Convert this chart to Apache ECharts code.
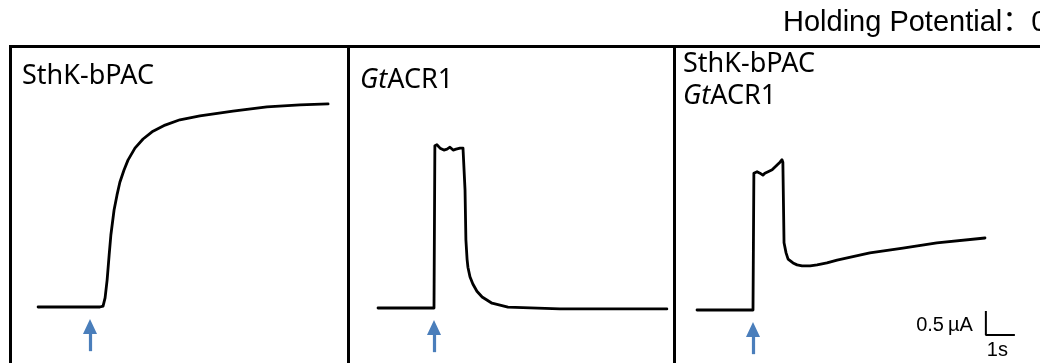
<!DOCTYPE html>
<html>
<head>
<meta charset="utf-8">
<script src="https://cdn.jsdelivr.net/npm/echarts@6/dist/echarts.min.js"></script>
<style>
  html, body { margin: 0; padding: 0; background: #fff; }
  #chart { width: 1040px; height: 363px; }
</style>
</head>
<body>
<div id="chart"></div>
<script>
// time in s relative to light onset (arrow), current in µA relative to baseline
const tSthK = [-1.79, 0.34, 0.45, 0.52, 0.59, 0.66, 0.72, 0.83, 0.93, 1.03, 1.17, 1.31, 1.55, 1.83, 2.14, 2.59, 3.10, 3.79, 4.93, 6.10, 7.24, 8.21];
const iSthK = [0, 0, 0.02, 0.19, 0.56, 1.08, 1.50, 2.02, 2.33, 2.60, 2.85, 3.06, 3.31, 3.50, 3.65, 3.79, 3.90, 3.98, 4.08, 4.17, 4.21, 4.23];

const tGt = [-1.93, 0, 0.03, 0.10, 0.21, 0.34, 0.45, 0.55, 0.66, 0.76, 0.90, 1.00, 1.03, 1.07, 1.10, 1.14, 1.17, 1.24, 1.34, 1.48, 1.66, 2.00, 2.55, 4.34, 8.03];
const iGt = [0, 0, 3.38, 3.40, 3.33, 3.29, 3.31, 3.35, 3.29, 3.31, 3.33, 3.33, 3.29, 2.46, 1.42, 1.02, 0.85, 0.65, 0.50, 0.35, 0.23, 0.10, 0.02, -0.02, -0.02];

const tBoth = [-1.93, 0, 0.03, 0.14, 0.24, 0.34, 0.41, 0.52, 0.66, 0.69, 0.83, 0.93, 1.00, 1.03, 1.07, 1.14, 1.21, 1.38, 1.52, 1.69, 1.97, 2.21, 2.55, 2.90, 4.03, 5.17, 6.34, 8.00];
const iBoth = [0, 0, 2.85, 2.88, 2.85, 2.81, 2.85, 2.88, 2.92, 2.96, 3.02, 3.08, 3.13, 3.08, 1.40, 1.19, 1.06, 0.98, 0.94, 0.92, 0.92, 0.94, 0.98, 1.04, 1.19, 1.29, 1.40, 1.50];

// light pulse arrow: onset time and vertical span (µA, bottom -> tip)
const stimTime = 0;
const arrowSpan = [-0.92, -0.25];

// scale bar: corner (s, µA) and size (1 s, 0.5 µA)
const scaleOrigin = [8.03, -0.52];
const scaleSize = [1, 0.5];

const panelNames = ['SthK-bPAC', 'GtACR1', 'SthK-bPAC + GtACR1'];

// layout in px
const pxPerSec = 29, pxPerUA = 48;
const gridTop = 46.5, gridHeight = 330;
const panels = [
  { left: 10.5, width: 338, arrowX: 90, baseY: 307 },
  { left: 348.5, width: 326, arrowX: 434, baseY: 308 },
  { left: 674.5, width: 420, arrowX: 753, baseY: 310 }
];

const zip = (t, v) => t.map((x, k) => [x, v[k]]);
const traces = [zip(tSthK, iSthK), zip(tGt, iGt), zip(tBoth, iBoth)];

const grid = [], xAxis = [], yAxis = [], series = [];
panels.forEach((p, k) => {
  grid.push({
    left: p.left, top: gridTop, width: p.width, height: gridHeight,
    outerBoundsMode: 'none', containLabel: false,
    show: true, borderColor: '#000', borderWidth: 3, backgroundColor: 'transparent'
  });
  const xMin = (p.left - p.arrowX) / pxPerSec;
  const yMax = (p.baseY - gridTop) / pxPerUA;
  xAxis.push({ type: 'value', gridIndex: k, min: xMin, max: xMin + p.width / pxPerSec, show: false });
  yAxis.push({ type: 'value', gridIndex: k, min: yMax - gridHeight / pxPerUA, max: yMax, show: false });

  const headH = 15;
  series.push({
    name: panelNames[k],
    type: 'line',
    xAxisIndex: k, yAxisIndex: k,
    data: traces[k],
    showSymbol: false,
    lineStyle: { color: '#000', width: 2.8, join: 'round', cap: 'round' },
    markLine: {
      silent: true,
      symbol: ['none', 'triangle'],
      symbolSize: [14, headH],
      label: { show: false },
      lineStyle: { color: '#4a7ebb', width: 3.2, type: 'solid' },
      data: [[
        { coord: [stimTime, arrowSpan[0]] },
        { coord: [stimTime, arrowSpan[1] - headH / 2 / pxPerUA] }
      ]]
    }
  });
});

// scale bar in the last panel
const sx = scaleOrigin[0], sy = scaleOrigin[1];
series.push({
  type: 'line',
  xAxisIndex: 2, yAxisIndex: 2,
  symbol: 'circle', symbolSize: 0.1,
  lineStyle: { color: '#000', width: 2 },
  itemStyle: { color: '#000' },
  label: { show: false },
  data: [
    [sx, sy + scaleSize[1]],
    { value: [sx, sy + scaleSize[1] / 2], label: { show: true, position: 'left', distance: 13, offset: [0, 3], formatter: '0.5\u2009µA', fontSize: 20, fontFamily: 'Liberation Sans', color: '#000' } },
    [sx, sy],
    { value: [sx + scaleSize[0] / 2, sy], label: { show: true, position: 'bottom', distance: 5, offset: [-3, 0], formatter: '1s', fontSize: 20, fontFamily: 'Liberation Sans', color: '#000' } },
    [sx + scaleSize[0], sy]
  ]
});

const labelFont = { fontFamily: 'Noto Sans', fontSize: 27, fill: '#000' };
const rich = { i: { fontStyle: 'italic', fontFamily: 'Noto Sans', fontSize: 27 }, n: { fontFamily: 'Noto Sans', fontSize: 27 } };

const chart = echarts.init(document.getElementById('chart'));
chart.setOption({
  animation: false,
  backgroundColor: '#fff',
  grid, xAxis, yAxis, series,
  graphic: [
    { type: 'text', left: 783, top: 8, style: { text: 'Holding Potential：0', fontFamily: 'Liberation Sans, Noto Sans CJK SC', fontSize: 29, fill: '#000' } },
    { type: 'text', x: 22, y: 76.5, style: Object.assign({ text: 'SthK-bPAC', verticalAlign: 'middle' }, labelFont) },
    { type: 'text', x: 360, y: 80, style: Object.assign({ text: '{i|Gt}{n|ACR1}', rich, verticalAlign: 'middle' }, labelFont) },
    { type: 'text', x: 683, y: 64, style: Object.assign({ text: 'SthK-bPAC', verticalAlign: 'middle' }, labelFont) },
    { type: 'text', x: 683, y: 96, style: Object.assign({ text: '{i|Gt}{n|ACR1}', rich, verticalAlign: 'middle' }, labelFont) }
  ]
});
</script>
</body>
</html>
